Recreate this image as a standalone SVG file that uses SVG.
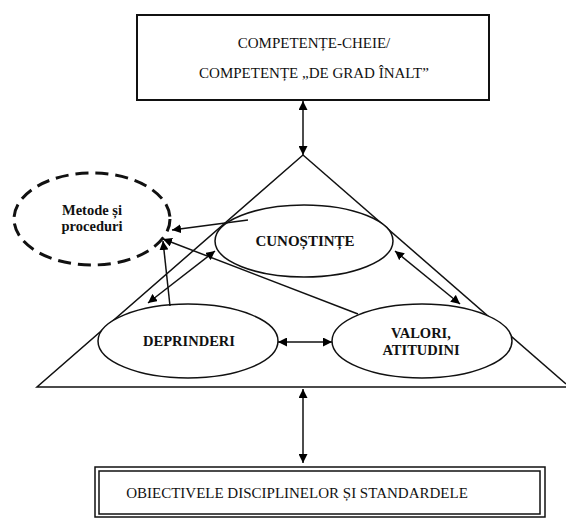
<svg xmlns="http://www.w3.org/2000/svg" width="566" height="521" viewBox="0 0 566 521">
<defs>
<marker id="ah" viewBox="0 0 10 10" refX="10" refY="5" markerWidth="9" markerHeight="9" markerUnits="userSpaceOnUse" orient="auto-start-reverse">
<path d="M0,0 L10,5 L0,10 z" fill="#000"/>
</marker>
<style>
.t{font-family:"Liberation Serif","Times New Roman",serif;fill:#111;text-anchor:middle}
.b{font-weight:bold}
.ln{stroke:#111;stroke-width:1.5;fill:none}
.ar{stroke:#111;stroke-width:1.5;fill:none;marker-end:url(#ah)}
.dar{stroke:#111;stroke-width:1.5;fill:none;marker-start:url(#ah);marker-end:url(#ah)}
.el{stroke:#111;stroke-width:1.5;fill:#fff}
</style>
</defs>
<rect width="566" height="521" fill="#fff"/>
<g id="triangle"><path class="ln" d="M303,155 L37,387 L566,387"/><path class="ln" d="M303,155 L566,384"/></g>
<g id="top-box">
<rect x="137" y="15" width="352" height="85" fill="none" stroke="#111" stroke-width="2"/>
<text class="t" x="314" y="48" font-size="15">COMPETENȚE-CHEIE/</text>
<text class="t" x="314" y="78" font-size="15">COMPETENȚE „DE GRAD ÎNALT”</text>
</g>
<g id="bottom-box">
<rect x="95" y="467" width="450" height="50" fill="none" stroke="#111" stroke-width="1.5"/>
<rect x="99" y="471" width="441" height="43" fill="none" stroke="#111" stroke-width="1.5"/>
<text class="t" x="297" y="498" font-size="15">OBIECTIVELE DISCIPLINELOR ȘI STANDARDELE</text>
</g>
<g id="metode">
<ellipse cx="92" cy="219" rx="78" ry="46" fill="none" stroke="#111" stroke-width="3" stroke-dasharray="13 7"/>
<text class="t b" x="92" y="215" font-size="14.5">Metode și</text>
<text class="t b" x="92" y="231" font-size="14.5">proceduri</text>
</g>
<g id="cunostinte">
<ellipse class="el" cx="304" cy="241" rx="89" ry="36"/>
<text class="t b" x="305" y="246" font-size="15">CUNOȘTINȚE</text>
</g>
<g id="deprinderi">
<ellipse class="el" cx="188" cy="341" rx="90" ry="37"/>
<text class="t b" x="189" y="346" font-size="14.5">DEPRINDERI</text>
</g>
<g id="valori">
<ellipse class="el" cx="422" cy="341" rx="90" ry="37"/>
<text class="t b" x="421" y="338" font-size="14.5">VALORI,</text>
<text class="t b" x="421" y="355" font-size="14.5">ATITUDINI</text>
</g>
<g id="connectors">
<line class="dar" x1="303" y1="101" x2="303" y2="155"/>
<line class="dar" x1="303" y1="389" x2="303" y2="463"/>
<line class="ar" x1="248" y1="220" x2="172" y2="230"/>
<line class="ar" x1="358" y1="314" x2="163" y2="239"/>
<line class="ar" x1="170" y1="306" x2="163" y2="241"/>
<line class="dar" x1="148" y1="303" x2="215" y2="251"/>
<line class="dar" x1="395" y1="251" x2="460" y2="304"/>
<line class="dar" x1="278" y1="342" x2="332" y2="342"/>
</g>
</svg>
